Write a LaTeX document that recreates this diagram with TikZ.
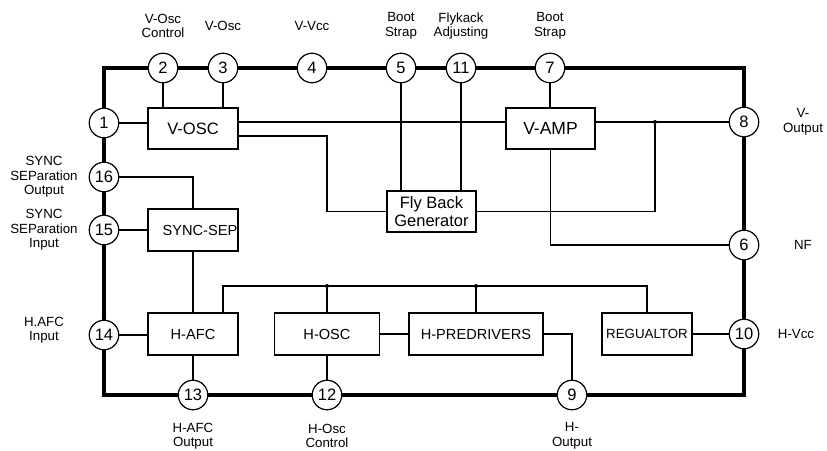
\documentclass[tikz,border=0pt]{standalone}
\usepackage{fontspec}
\setmainfont{Liberation Sans}
\begin{document}
\begin{tikzpicture}[x=1pt,y=-1pt,
  pin/.style={circle,draw,fill=white,line width=1.2pt,minimum size=29.5pt,inner sep=0pt,font=\fontsize{16.5}{16.5}\selectfont},
  blk/.style={draw,fill=white,line width=1.2pt,inner sep=0pt,font=\fontsize{14.6}{18}\selectfont,align=center},
  lbl/.style={align=center,font=\fontsize{13.3}{14.5}\selectfont},
  wire/.style={line width=1.2pt},
  dot/.style={circle,fill=black,inner sep=0pt,minimum size=4pt}]
\useasboundingbox (0,0) rectangle (827,450);
% package outline
\draw[line width=3.5pt] (104,68) rectangle (744,395);
% blocks
\node[blk,minimum width=90pt,minimum height=41pt,font=\fontsize{16.5}{18}\selectfont] (vosc) at (193,128.5) {V-OSC};
\node[blk,minimum width=89pt,minimum height=41pt,font=\fontsize{17.5}{18}\selectfont] (vamp) at (550.5,128.5) {V-AMP};
\node[blk,minimum width=89pt,minimum height=41pt,font=\fontsize{16.5}{18}\selectfont] (fbg) at (431.5,211.5) {Fly Back\\Generator};
\node[blk,minimum width=90pt,minimum height=42pt] (sync) at (193,230) {\hspace*{14pt}SYNC-SEP};
\node[blk,minimum width=90pt,minimum height=42pt] (hafc) at (193,334) {H-AFC};
\node[blk,minimum width=105pt,minimum height=42pt] (hosc) at (327,334) {H-OSC};
\node[blk,minimum width=134pt,minimum height=42pt] (hpre) at (476,334) {H-PREDRIVERS};
\node[blk,minimum width=90pt,minimum height=42pt,font=\fontsize{13.3}{16}\selectfont] (reg) at (647,334) {REGUALTOR};
% pins
\node[pin] (p1) at (104,123) {1};
\node[pin] (p2) at (163,68) {2};
\node[pin] (p3) at (223,68) {3};
\node[pin] (p4) at (312,68) {4};
\node[pin] (p5) at (401,68) {5};
\node[pin] (p11) at (461,68) {11};
\node[pin] (p7) at (550,68) {7};
\node[pin] (p8) at (744,122) {8};
\node[pin] (p6) at (744,245) {6};
\node[pin] (p10) at (744,334) {10};
\node[pin] (p9) at (572,395) {9};
\node[pin] (p12) at (327,395) {12};
\node[pin] (p13) at (193,395) {13};
\node[pin] (p14) at (104,335) {14};
\node[pin] (p15) at (104,230) {15};
\node[pin] (p16) at (104,177) {16};
% junctions
\coordinate (j1) at (655,122);
\coordinate (b1) at (223,286);
\coordinate (b2) at (327,286);
\coordinate (b3) at (476,286);
\coordinate (b4) at (647,286);
\coordinate (k1) at (327,136);
% wires
\draw[wire] (p2) -- (p2 |- vosc.north);
\draw[wire] (p3) -- (p3 |- vosc.north);
\draw[wire] (p1) -- (p1 -| vosc.west);
\draw[wire] (p8 -| vosc.east) -- (p8 -| vamp.west);
\draw[wire] (k1 -| vosc.east) -- (k1) |- (fbg.west);
\draw[wire] (p5) -- (p5 |- fbg.north);
\draw[wire] (p11) -- (p11 |- fbg.north);
\draw[wire] (p7) -- (p7 |- vamp.north);
\draw[wire] (p8 -| vamp.east) -- (p8);
\draw[wire] (j1) |- (fbg.east);
\draw[wire] (vamp.south) |- (p6);
\draw[wire] (p16) -| (sync.north);
\draw[wire] (p15) -- (p15 -| sync.west);
\draw[wire] (sync.south) -- (hafc.north);
\draw[wire] (b1 |- hafc.north) -- (b1) -- (b4) -- (b4 |- reg.north);
\draw[wire] (b2) -- (hosc.north);
\draw[wire] (b3) -- (hpre.north);
\draw[wire] (p14) -- (p14 -| hafc.west);
\draw[wire] (hafc.south) -- (p13);
\draw[wire] (hosc.south) -- (p12);
\draw[wire] (hosc.east) -- (hpre.west);
\draw[wire] (hpre.east) -| (p9);
\draw[wire] (reg.east) -- (p10);
\node[dot] (d1) at (j1) {};
\node[dot] (d2) at (b2) {};
\node[dot] (d3) at (b3) {};
% labels
\node[lbl] (l2) at (163,26) {V-Osc\\Control};
\node[lbl] (l3) at (223,26) {V-Osc};
\node[lbl] (l4) at (312,26) {V-Vcc};
\node[lbl] (l5) at (401,26) {Boot\\Strap};
\node[lbl] (l11) at (461,26) {Flykack\\Adjusting};
\node[lbl] (l7) at (550,26) {Boot\\Strap};
\node[lbl] (l8) at (803,122) {V-\\Output};
\node[lbl] (l6) at (803,245) {NF};
\node[lbl] (l10) at (796,334) {H-Vcc};
\node[lbl] (l13) at (193,436) {H-AFC\\Output};
\node[lbl] (l12) at (327,436) {H-Osc\\Control};
\node[lbl] (l9) at (572,436) {H-\\Output};
\node[lbl] (l14) at (44,330) {H.AFC\\Input};
\node[lbl] (l16) at (44,177) {SYNC\\SEParation\\Output};
\node[lbl] (l15) at (44,230) {SYNC\\SEParation\\Input};
\end{tikzpicture}
\end{document}
